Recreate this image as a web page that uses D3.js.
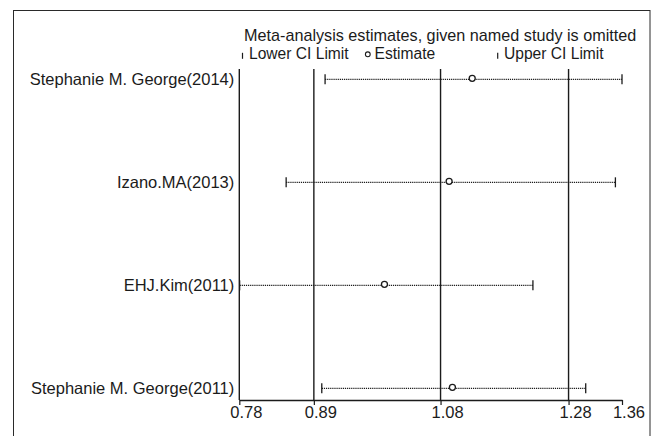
<!DOCTYPE html>
<html lang="en">
<head>
    <meta charset="UTF-8">
    <title>Influence analysis</title>
    <script src="https://d3js.org/d3.v7.min.js"></script>
    <style>
        body { margin: 0; background: #fff; }
        text { font-family: "Liberation Sans", Arial, Helvetica, sans-serif; fill: #1b1b1b; }
    </style>
</head>
<body>
<script type="text/javascript">
    // study omitted in each row
    var studies = ["Stephanie M. George(2014)", "Izano.MA(2013)", "EHJ.Kim(2011)", "Stephanie M. George(2011)"];
    var estimates = [1.133, 1.098, 1.000, 1.103];
    var lowerCI = [0.910, 0.851, 0.7805, 0.905];
    var upperCI = [1.360, 1.350, 1.225, 1.305];
    // overall lower CI, estimate, upper CI (vertical lines)
    var refValues = [0.893, 1.085, 1.279];
    var tickValues = [0.78, 0.893, 1.085, 1.279, 1.36];
    var tickLabels = ["0.78", "0.89", "1.08", "1.28", "1.36"];
    var titleText = "Meta-analysis estimates, given named study is omitted";

    var svgWidth = 661;
    var svgHeight = 436;
    var plotLeft = 239.3;
    var plotRight = 622;
    var plotTop = 69;
    var plotBottom = 400;
    var fontSize = 16.5;

    var rows = studies.map(function (s, i) {
        return {name: s, pos: i + 1, est: estimates[i], lo: lowerCI[i], hi: upperCI[i]};
    });

    var xScale = d3.scaleLinear().domain([0.78, 1.36]).range([plotLeft, plotRight]);
    var yScale = d3.scaleLinear().domain([0.9, 4.113]).range([plotTop, plotBottom]);

    var svg = d3.select("body").append("svg")
        .attr("width", svgWidth)
        .attr("height", svgHeight);

    // outer frame
    svg.append("rect")
        .attr("x", 13.5)
        .attr("y", 10.5)
        .attr("width", 636.5)
        .attr("height", 440)
        .attr("fill", "none")
        .attr("stroke", "#2a2a2a")
        .attr("stroke-width", 1);

    // title and legend
    svg.append("text")
        .attr("x", 244)
        .attr("y", 41)
        .attr("font-size", 16.2)
        .text(titleText);

    var legendY = 58.8;
    var legendFont = 15.6;
    var legend = svg.append("g");
    legend.append("line")
        .attr("x1", 242.5).attr("x2", 242.5)
        .attr("y1", legendY - 6).attr("y2", legendY)
        .attr("stroke", "#1b1b1b").attr("stroke-width", 1.2);
    legend.append("text")
        .attr("x", 249)
        .attr("y", legendY)
        .attr("font-size", legendFont)
        .text("Lower CI Limit");
    legend.append("circle")
        .attr("cx", 367.8).attr("cy", legendY - 4.5).attr("r", 2.4)
        .attr("fill", "#fff").attr("stroke", "#1b1b1b").attr("stroke-width", 1.1);
    legend.append("text")
        .attr("x", 374.5)
        .attr("y", legendY)
        .attr("font-size", legendFont)
        .text("Estimate");
    legend.append("line")
        .attr("x1", 497.7).attr("x2", 497.7)
        .attr("y1", legendY - 6).attr("y2", legendY)
        .attr("stroke", "#1b1b1b").attr("stroke-width", 1.2);
    legend.append("text")
        .attr("x", 504)
        .attr("y", legendY)
        .attr("font-size", legendFont)
        .text("Upper CI Limit");

    // left axis line
    svg.append("line")
        .attr("x1", plotLeft).attr("x2", plotLeft)
        .attr("y1", plotTop).attr("y2", plotBottom)
        .attr("stroke", "#1b1b1b").attr("stroke-width", 1.4);

    // reference lines for overall estimate and CI
    svg.selectAll("line.ref")
        .data(refValues)
        .enter()
        .append("line")
        .attr("class", "ref")
        .attr("x1", function (d) { return xScale(d); })
        .attr("x2", function (d) { return xScale(d); })
        .attr("y1", plotTop)
        .attr("y2", plotBottom)
        .attr("stroke", "#1b1b1b")
        .attr("stroke-width", 1.4);

    // x axis
    var xAxis = d3.axisBottom(xScale)
        .tickValues(tickValues)
        .tickFormat(function (d, i) { return tickLabels[i]; })
        .tickSize(5)
        .tickSizeOuter(0);

    var axisG = svg.append("g")
        .attr("transform", "translate(0," + plotBottom + ")")
        .call(xAxis);
    axisG.select(".domain").attr("stroke", "#1b1b1b").attr("stroke-width", 1.4);
    axisG.selectAll(".tick line").attr("stroke", "#1b1b1b").attr("stroke-width", 1.2);
    axisG.selectAll(".tick text")
        .attr("y", 17.5)
        .attr("dy", null)
        .attr("dx", 6.5)
        .attr("fill", "#1b1b1b")
        .attr("font-size", fontSize)
        .attr("font-family", "Liberation Sans, Arial, sans-serif");

    // study labels
    svg.selectAll("text.study")
        .data(rows)
        .enter()
        .append("text")
        .attr("class", "study")
        .attr("x", plotLeft - 5)
        .attr("y", function (d) { return yScale(d.pos); })
        .attr("dy", "0.36em")
        .attr("text-anchor", "end")
        .attr("font-size", fontSize)
        .text(function (d) { return d.name; });

    // CI dotted lines
    svg.selectAll("line.ci")
        .data(rows)
        .enter()
        .append("line")
        .attr("class", "ci")
        .attr("x1", function (d) { return xScale(d.lo); })
        .attr("x2", function (d) { return xScale(d.hi); })
        .attr("y1", function (d) { return yScale(d.pos); })
        .attr("y2", function (d) { return yScale(d.pos); })
        .attr("stroke", "#1b1b1b")
        .attr("stroke-width", 1.2)
        .attr("stroke-dasharray", "1.2,0.9");

    var capHalf = 5;
    ["lo", "hi"].forEach(function (k) {
        svg.selectAll("line.cap-" + k)
            .data(rows)
            .enter()
            .append("line")
            .attr("class", "cap-" + k)
            .attr("x1", function (d) { return xScale(d[k]); })
            .attr("x2", function (d) { return xScale(d[k]); })
            .attr("y1", function (d) { return yScale(d.pos) - capHalf; })
            .attr("y2", function (d) { return yScale(d.pos) + capHalf; })
            .attr("stroke", "#1b1b1b")
            .attr("stroke-width", 1.3);
    });

    // estimates
    svg.selectAll("circle.est")
        .data(rows)
        .enter()
        .append("circle")
        .attr("class", "est")
        .attr("cx", function (d) { return xScale(d.est); })
        .attr("cy", function (d) { return yScale(d.pos) - 1; })
        .attr("r", 3)
        .attr("fill", "#fff")
        .attr("stroke", "#1b1b1b")
        .attr("stroke-width", 1.3);
</script>
</body>
</html>
